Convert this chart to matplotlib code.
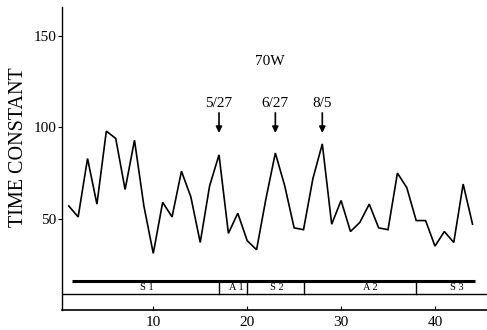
import matplotlib
matplotlib.use("Agg")
import matplotlib.pyplot as plt

plt.rcParams['font.family'] = ['Liberation Serif', 'DejaVu Serif']

days = list(range(1, 45))
tc = [57, 51, 83, 58, 98, 94, 66, 93, 57, 31, 59, 51, 76, 62, 37, 68, 85, 42, 53, 38,
      33, 61, 86, 68, 45, 44, 72, 91, 47, 60, 43, 48, 58, 45, 44, 75, 67, 49, 49, 35,
      43, 37, 69, 47]

event_labels = ['5/27', '6/27', '8/5']
event_days = [17, 23, 28]

seg_names = ['S 1', 'A 1', 'S 2', 'A 2', 'S 3']
seg_bounds = [1.3, 17, 20, 26, 38, 44.3]
seg_label_x = [9.3, 18.8, 23.2, 33.1, 42.3]

fig = plt.figure(figsize=(4.87, 3.30), dpi=100)
ax = fig.add_axes([62/487, 20/330, 425/487, 303/330])
ax.set_xlim(0.28, 45.54)
ax.set_ylim(0, 166)

ax.plot(days, tc, color='black', lw=1.2, solid_joinstyle='miter')

# event arrows
for lab, d in zip(event_labels, event_days):
    ax.annotate('', xy=(d, 97), xytext=(d, 108),
                arrowprops=dict(arrowstyle='-|>', color='black', lw=1.2,
                                mutation_scale=9, shrinkA=0, shrinkB=0))
    ax.text(d, 113, lab, ha='center', va='center', fontsize=11)

ax.text(22.4, 136, '70W', ha='center', va='center', fontsize=11)

# segment bar
ax.plot([seg_bounds[0], seg_bounds[-1]], [16, 16], color='black', lw=2.2,
        solid_capstyle='butt')
ax.axhline(8.9, color='black', lw=1.0)
for b in seg_bounds[1:-1]:
    ax.plot([b, b], [8.9, 16], color='black', lw=1.0)
for name, x in zip(seg_names, seg_label_x):
    ax.text(x, 12.4, name, ha='center', va='center', fontsize=7.5)

ax.spines['top'].set_visible(False)
ax.spines['right'].set_visible(False)
ax.spines['left'].set_linewidth(1.0)
ax.spines['bottom'].set_linewidth(1.2)

ax.set_xticks([10, 20, 30, 40])
ax.set_yticks([50, 100, 150])
ax.tick_params(axis='x', direction='in', length=3, labelsize=11, pad=4)
ax.tick_params(axis='y', direction='out', length=3, labelsize=11, pad=1)
ax.set_ylabel('TIME CONSTANT', fontsize=14.5, labelpad=4)
ax.yaxis.set_label_coords(-0.08, 0.538)

fig.savefig('out.png', dpi=100)
